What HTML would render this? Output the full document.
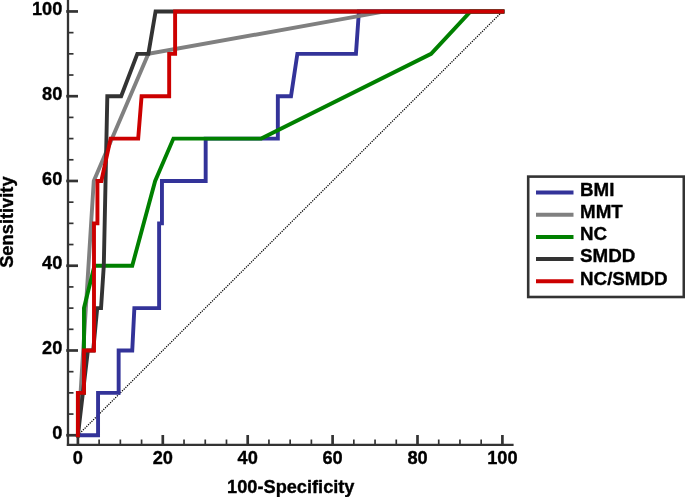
<!DOCTYPE html>
<html><head><meta charset="utf-8"><title>ROC</title>
<style>html,body{margin:0;padding:0;background:#fff}svg{display:block;will-change:transform}</style>
</head><body>
<svg width="685" height="497" viewBox="0 0 685 497">
<rect width="685" height="497" fill="#fff"/>
<line x1="77.9" y1="435.25" x2="502.4" y2="11.45" stroke="#000" stroke-width="1.3" stroke-dasharray="1.2,1.2"/>
<line x1="68" y1="0" x2="68" y2="446" stroke="#333333" stroke-width="2.3"/>
<line x1="66.85" y1="444.85" x2="513.6" y2="444.85" stroke="#333333" stroke-width="2.3"/>
<line x1="66.2" y1="435.25" x2="78" y2="435.25" stroke="#333333" stroke-width="2.7"/>
<line x1="77.9" y1="445" x2="77.9" y2="435" stroke="#333333" stroke-width="2.7"/>
<line x1="68" y1="414.06" x2="73.5" y2="414.06" stroke="#333333" stroke-width="1.7"/>
<line x1="99.12" y1="445" x2="99.12" y2="439.5" stroke="#333333" stroke-width="1.7"/>
<line x1="68" y1="392.87" x2="73.5" y2="392.87" stroke="#333333" stroke-width="1.7"/>
<line x1="120.35" y1="445" x2="120.35" y2="439.5" stroke="#333333" stroke-width="1.7"/>
<line x1="68" y1="371.68" x2="73.5" y2="371.68" stroke="#333333" stroke-width="1.7"/>
<line x1="141.58" y1="445" x2="141.58" y2="439.5" stroke="#333333" stroke-width="1.7"/>
<line x1="66.2" y1="350.49" x2="78" y2="350.49" stroke="#333333" stroke-width="2.7"/>
<line x1="162.8" y1="445" x2="162.8" y2="435" stroke="#333333" stroke-width="2.7"/>
<line x1="68" y1="329.3" x2="73.5" y2="329.3" stroke="#333333" stroke-width="1.7"/>
<line x1="184.03" y1="445" x2="184.03" y2="439.5" stroke="#333333" stroke-width="1.7"/>
<line x1="68" y1="308.11" x2="73.5" y2="308.11" stroke="#333333" stroke-width="1.7"/>
<line x1="205.25" y1="445" x2="205.25" y2="439.5" stroke="#333333" stroke-width="1.7"/>
<line x1="68" y1="286.92" x2="73.5" y2="286.92" stroke="#333333" stroke-width="1.7"/>
<line x1="226.48" y1="445" x2="226.48" y2="439.5" stroke="#333333" stroke-width="1.7"/>
<line x1="66.2" y1="265.73" x2="78" y2="265.73" stroke="#333333" stroke-width="2.7"/>
<line x1="247.7" y1="445" x2="247.7" y2="435" stroke="#333333" stroke-width="2.7"/>
<line x1="68" y1="244.54" x2="73.5" y2="244.54" stroke="#333333" stroke-width="1.7"/>
<line x1="268.93" y1="445" x2="268.93" y2="439.5" stroke="#333333" stroke-width="1.7"/>
<line x1="68" y1="223.35" x2="73.5" y2="223.35" stroke="#333333" stroke-width="1.7"/>
<line x1="290.15" y1="445" x2="290.15" y2="439.5" stroke="#333333" stroke-width="1.7"/>
<line x1="68" y1="202.16" x2="73.5" y2="202.16" stroke="#333333" stroke-width="1.7"/>
<line x1="311.38" y1="445" x2="311.38" y2="439.5" stroke="#333333" stroke-width="1.7"/>
<line x1="66.2" y1="180.97" x2="78" y2="180.97" stroke="#333333" stroke-width="2.7"/>
<line x1="332.6" y1="445" x2="332.6" y2="435" stroke="#333333" stroke-width="2.7"/>
<line x1="68" y1="159.78" x2="73.5" y2="159.78" stroke="#333333" stroke-width="1.7"/>
<line x1="353.83" y1="445" x2="353.83" y2="439.5" stroke="#333333" stroke-width="1.7"/>
<line x1="68" y1="138.59" x2="73.5" y2="138.59" stroke="#333333" stroke-width="1.7"/>
<line x1="375.05" y1="445" x2="375.05" y2="439.5" stroke="#333333" stroke-width="1.7"/>
<line x1="68" y1="117.4" x2="73.5" y2="117.4" stroke="#333333" stroke-width="1.7"/>
<line x1="396.27" y1="445" x2="396.27" y2="439.5" stroke="#333333" stroke-width="1.7"/>
<line x1="66.2" y1="96.21" x2="78" y2="96.21" stroke="#333333" stroke-width="2.7"/>
<line x1="417.5" y1="445" x2="417.5" y2="435" stroke="#333333" stroke-width="2.7"/>
<line x1="68" y1="75.02" x2="73.5" y2="75.02" stroke="#333333" stroke-width="1.7"/>
<line x1="438.73" y1="445" x2="438.73" y2="439.5" stroke="#333333" stroke-width="1.7"/>
<line x1="68" y1="53.83" x2="73.5" y2="53.83" stroke="#333333" stroke-width="1.7"/>
<line x1="459.95" y1="445" x2="459.95" y2="439.5" stroke="#333333" stroke-width="1.7"/>
<line x1="68" y1="32.64" x2="73.5" y2="32.64" stroke="#333333" stroke-width="1.7"/>
<line x1="481.18" y1="445" x2="481.18" y2="439.5" stroke="#333333" stroke-width="1.7"/>
<line x1="66.2" y1="11.45" x2="78" y2="11.45" stroke="#333333" stroke-width="2.7"/>
<line x1="502.4" y1="445" x2="502.4" y2="435" stroke="#333333" stroke-width="2.7"/>
<path d="M77.9,435.25 L98.06,435.25 L98.06,392.87 L118.65,392.87 L118.65,350.49 L132.24,350.49 L134.36,308.11 L159.11,308.11 L159.11,223.35 L161.95,223.35 L161.95,180.97 L205.67,180.97 L205.67,138.59 L277.84,138.59 L277.84,96.21 L291.0,96.21 L297.37,53.83 L355.95,53.83 L358.92,11.45 L502.4,11.45" fill="none" stroke="#333399" stroke-width="3.9" stroke-linejoin="miter" stroke-linecap="square"/>
<path d="M77.9,435.25 L93.78,180.97 L148.37,53.83 L384.81,11.45 L502.4,11.45" fill="none" stroke="#808080" stroke-width="3.9" stroke-linejoin="miter" stroke-linecap="square"/>
<path d="M77.9,435.25 L77.9,392.87 L83.97,392.87 L83.97,308.11 L94.46,265.73 L132.24,265.73 L155.16,180.97 L173.41,138.59 L261.28,138.59 L431.08,53.83 L470.56,11.45 L502.4,11.45" fill="none" stroke="#008000" stroke-width="3.9" stroke-linejoin="miter" stroke-linecap="square"/>
<path d="M77.9,435.25 L87.88,350.49 L93.18,350.49 L97.21,308.11 L101.04,308.11 L103.79,265.73 L107.32,96.21 L121.16,96.21 L137.33,53.83 L148.37,53.83 L155.58,11.45 L502.4,11.45" fill="none" stroke="#333333" stroke-width="3.9" stroke-linejoin="miter" stroke-linecap="square"/>
<path d="M77.9,435.25 L77.9,392.87 L83.97,392.87 L83.97,350.49 L93.99,350.49 L93.99,223.35 L97.43,223.35 L97.43,180.97 L101.37,180.97 L110.59,138.59 L138.18,138.59 L141.58,96.21 L169.17,96.21 L169.17,53.83 L175.11,53.83 L175.11,11.45 L502.4,11.45" fill="none" stroke="#cc0000" stroke-width="3.9" stroke-linejoin="miter" stroke-linecap="square"/>
<g font-family="'Liberation Sans', Arial, sans-serif" font-weight="bold" font-size="18.2" fill="#000" stroke="#000" stroke-width="0.35" stroke-linejoin="round">
<text x="62.3" y="438.9" text-anchor="end">0</text>
<text x="77.9" y="464.2" text-anchor="middle">0</text>
<text x="62.3" y="354.2" text-anchor="end">20</text>
<text x="162.8" y="464.2" text-anchor="middle">20</text>
<text x="62.3" y="269.4" text-anchor="end">40</text>
<text x="247.7" y="464.2" text-anchor="middle">40</text>
<text x="62.3" y="184.7" text-anchor="end">60</text>
<text x="332.6" y="464.2" text-anchor="middle">60</text>
<text x="62.3" y="99.9" text-anchor="end">80</text>
<text x="417.5" y="464.2" text-anchor="middle">80</text>
<text x="62.3" y="15.1" text-anchor="end">100</text>
<text x="502.4" y="464.2" text-anchor="middle">100</text>
<text x="290.8" y="493.1" text-anchor="middle">100-Specificity</text>
<text transform="translate(13.1,222.1) rotate(-90)" text-anchor="middle" font-size="18.3">Sensitivity</text>
</g>
<rect x="528.2" y="176.6" width="155.6" height="120.4" fill="#fff" stroke="#333333" stroke-width="2.6"/>
<g font-family="'Liberation Sans', Arial, sans-serif" font-weight="bold" font-size="18.8" fill="#000" stroke="#000" stroke-width="0.35" stroke-linejoin="round">
<line x1="536" y1="192.5" x2="573.5" y2="192.5" stroke="#333399" stroke-width="4"/>
<text x="580" y="195.8">BMI</text>
<line x1="536" y1="214.7" x2="573.5" y2="214.7" stroke="#808080" stroke-width="4"/>
<text x="580" y="218.0">MMT</text>
<line x1="536" y1="236.9" x2="573.5" y2="236.9" stroke="#008000" stroke-width="4"/>
<text x="580" y="240.2">NC</text>
<line x1="536" y1="259.1" x2="573.5" y2="259.1" stroke="#333333" stroke-width="4"/>
<text x="580" y="262.4">SMDD</text>
<line x1="536" y1="281.3" x2="573.5" y2="281.3" stroke="#cc0000" stroke-width="4"/>
<text x="580" y="284.6">NC/SMDD</text>
</g>
</svg>
</body></html>
